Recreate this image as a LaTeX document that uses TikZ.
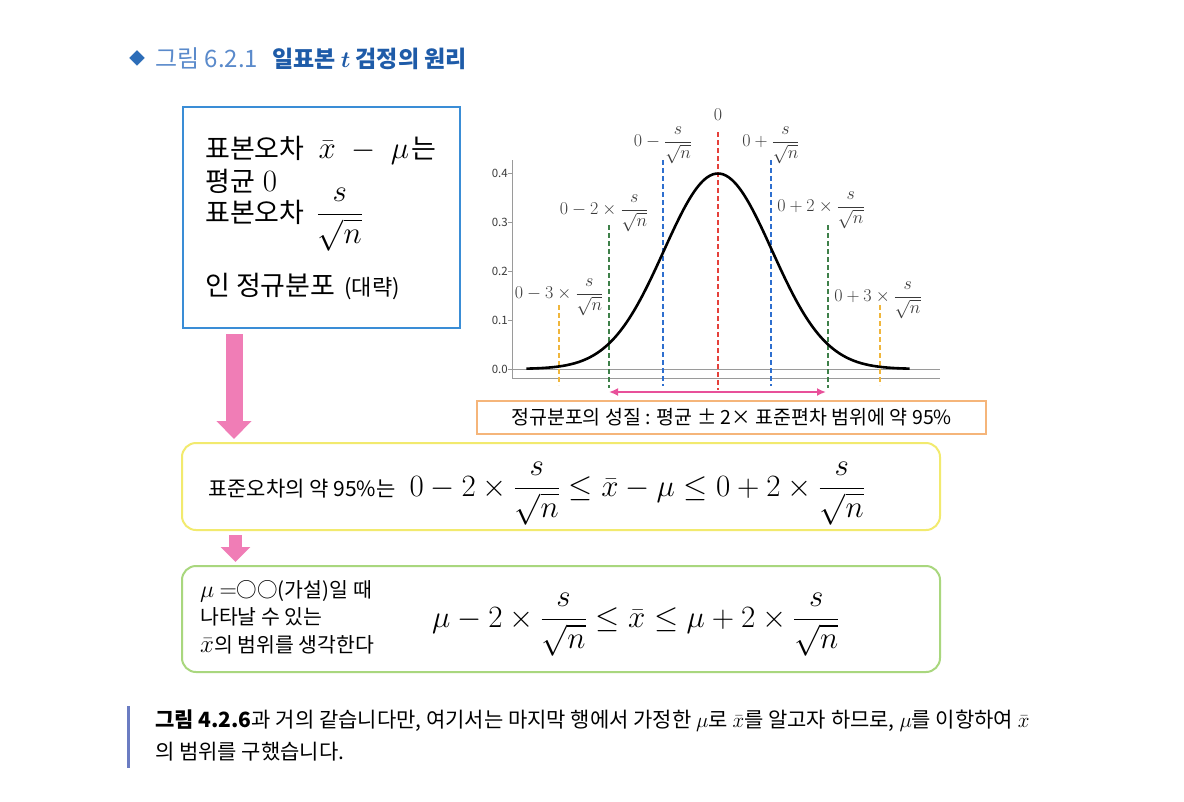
\documentclass[tikz,border=0pt]{standalone}
\usepackage{fix-cm}
\usepackage{amsmath}
\usepackage[no-math]{fontspec}
\setmainfont{Noto Sans CJK KR}
\usetikzlibrary{arrows.meta}

\definecolor{titleblue}{HTML}{1E5BA8}
\definecolor{titlelight}{HTML}{5A8ACB}
\definecolor{markblue}{HTML}{2C6DB8}
\definecolor{boxblue}{HTML}{3A8DD6}
\definecolor{boxyellow}{HTML}{F2EA6E}
\definecolor{boxgreen}{HTML}{A9D77E}
\definecolor{boxorange}{HTML}{F5B57A}
\definecolor{arrowpink}{HTML}{F07DB6}
\definecolor{rangepink}{HTML}{E8509A}
\definecolor{guidered}{HTML}{E5403A}
\definecolor{guideblue}{HTML}{2E6FCF}
\definecolor{guidegreen}{HTML}{3E8049}
\definecolor{guideorange}{HTML}{F0B63C}
\definecolor{axisgray}{HTML}{9A9A9A}
\definecolor{labelgray}{HTML}{3A3A3A}
\definecolor{barblue}{HTML}{6B7CC2}

\newcommand\bigmath[1]{{\fontsize{31}{37}\selectfont$#1$}}
\newcommand\sern{\dfrac{s}{\sqrt{n}}}

\tikzset{
  box/.style={draw, line width=2pt, inner sep=0pt},
  roundbox/.style={box, rounded corners=14pt},
  txt/.style={anchor=base west, inner sep=0pt},
  guide/.style={line width=2.8pt, dash pattern=on 5pt off 3pt},
  curvelbl/.style={inner sep=0pt, text=labelgray, font=\fontsize{18}{22}\selectfont},
  ticklbl/.style={anchor=east, inner sep=0pt, text=labelgray, font=\fontsize{11.5}{13}\selectfont},
  blockarrow/.style={arrowpink, line width=#1}
}

\begin{document}
\begin{tikzpicture}[x=1pt,y=-1pt]
  \useasboundingbox (0,0) rectangle (1184,801);
  \fill[white] (0,0) rectangle (1184,801);

  % title
  \node[text=markblue, inner sep=0pt, font=\fontsize{16}{18}\selectfont] (titlemark) at (137,58) {◆};
  \node[txt, text=titlelight, font=\fontsize{24}{28}\selectfont] (titlenum) at (155,67) {그림 6.2.1};
  \node[txt, text=titleblue, font=\fontsize{23}{27}\selectfont\bfseries] (titlename) at (272,67) {일표본 {\boldmath$t$} 검정의 원리};

  % boxes
  \node[box, draw=boxblue, minimum width=277pt, minimum height=221pt] (bluebox) at (321.5,217.5) {};
  \node[roundbox, draw=boxyellow, minimum width=758pt, minimum height=87pt] (yellowbox) at (561,486.5) {};
  \node[roundbox, draw=boxgreen, minimum width=758pt, minimum height=106pt] (greenbox) at (561,619) {};
  \node[box, draw=boxorange, line width=1.4pt, minimum width=509pt, minimum height=33pt] (orangebox) at (731.5,417.5) {};

  % blue box text
  \begin{scope}[every node/.style={txt, font=\fontsize{27}{32}\selectfont}]
    \node (se) at (205,158) {표본오차\hspace{14pt}\bigmath{\bar{x}\;-\;\mu}\hspace{2pt}는};
    \node (mean) at (205,191) {평균\hspace{8pt}\bigmath{0}};
    \node (sd) at (205,222) {표본오차\hspace{12pt}\bigmath{\sern}};
    \node (normal) at (205,295) {인 정규분포 {\fontsize{22}{26}\selectfont\hspace{3pt}(대략)}};
  \end{scope}

  % block arrows
  \draw[blockarrow=17pt, -{Triangle[width=34pt,length=18pt]}]
    ([xshift=52pt,yshift=-5pt]bluebox.south west) -- ([xshift=52pt,yshift=3pt]bluebox.south west |- yellowbox.north);
  \draw[blockarrow=13pt, -{Triangle[width=29pt,length=15pt]}]
    ([xshift=54.5pt,yshift=-4pt]yellowbox.south west) -- ([xshift=54.5pt,yshift=3pt]yellowbox.south west |- greenbox.north);

  % yellow and green box text
  \node[txt, font=\fontsize{21}{25}\selectfont] (yellowtxt) at (208,496)
    {표준오차의 약 95\%는\hspace{14pt}\bigmath{0-2\times\sern\le\bar{x}-\mu\le0+2\times\sern}};
  \begin{scope}[every node/.style={txt, font=\fontsize{20.5}{25}\selectfont}]
    \node (hyp) at (200,597) {{\fontsize{24}{28}\selectfont$\mu$ $=$}○○(가설)일 때};
    \node (appear) at (200,624) {나타날 수 있는};
    \node (range) at (200,652) {{\fontsize{25}{29}\selectfont$\bar{x}$}의 범위를 생각한다};
  \end{scope}
  \node[txt] (greenmath) at (432,627.5) {\bigmath{\mu-2\times\sern\le\bar{x}\le\mu+2\times\sern}};

  % orange box text
  \node[inner sep=0pt, font=\fontsize{19.5}{24}\selectfont] (rule) at (orangebox.center) {정규분포의 성질 : 평균 ± 2× 표준편차 범위에 약 95\%};

  % axes
  \draw[axisgray, line width=0.8pt] (512,160) -- (512,378) -- (940,378);
  \draw[axisgray, line width=0.8pt] (508,369) -- (940,369);
  \foreach \p/\lbl in {0/0.0,0.1/0.1,0.2/0.2,0.3/0.3,0.4/0.4} {
    \draw[axisgray, line width=0.8pt] (508,369-490*\p) -- (512,369-490*\p);
    \node[ticklbl] at (508,369-490*\p) {\lbl};
  }

  % guide lines
  \draw[guide, guideorange] (559,305) -- (559,385);
  \draw[guide, guideorange] (880,305) -- (880,385);
  \draw[guide, guidegreen] (609,225) -- (609,388);
  \draw[guide, guidegreen] (828,225) -- (828,388);
  \draw[guide, guideblue] (663,160) -- (663,386);
  \draw[guide, guideblue] (771,160) -- (771,386);
  \draw[guide, guidered] (718,132) -- (718,390);

  % density curve
  \draw[line width=2.6pt, domain=-3.55:3.55, samples=120, smooth]
    plot ({718+54*\x},{369-195.5*exp(-0.5*\x*\x)});

  % 95% range
  \draw[rangepink, line width=2.4pt, {Latex[length=9pt,width=8pt]}-{Latex[length=9pt,width=8pt]}] (609,392) -- (826,392);

  % curve labels
  \node[curvelbl] (lblzero) at (718,115) {$0$};
  \node[curvelbl] (lblmone) at (663,145) {$0-\sern$};
  \node[curvelbl] (lblpone) at (771,145) {$0+\sern$};
  \node[curvelbl] (lblmtwo) at (604,213) {$0-2\times\sern$};
  \node[curvelbl] (lblptwo) at (821,210) {$0+2\times\sern$};
  \node[curvelbl] (lblmthree) at (559,297) {$0-3\times\sern$};
  \node[curvelbl] (lblpthree) at (878,300) {$0+3\times\sern$};

  % note
  \draw[barblue, line width=3pt] (128,706) -- (128,768);
  \begin{scope}[every node/.style={txt, font=\fontsize{21}{25}\selectfont}]
    \node (note1) at (155,727) {\textbf{그림 4.2.6}과 거의 같습니다만, 여기서는 마지막 행에서 가정한 $\mu$로 $\bar{x}$를 알고자 하므로, $\mu$를 이항하여 $\bar{x}$};
    \node (note2) at (155,759) {의 범위를 구했습니다.};
  \end{scope}
\end{tikzpicture}
\end{document}
